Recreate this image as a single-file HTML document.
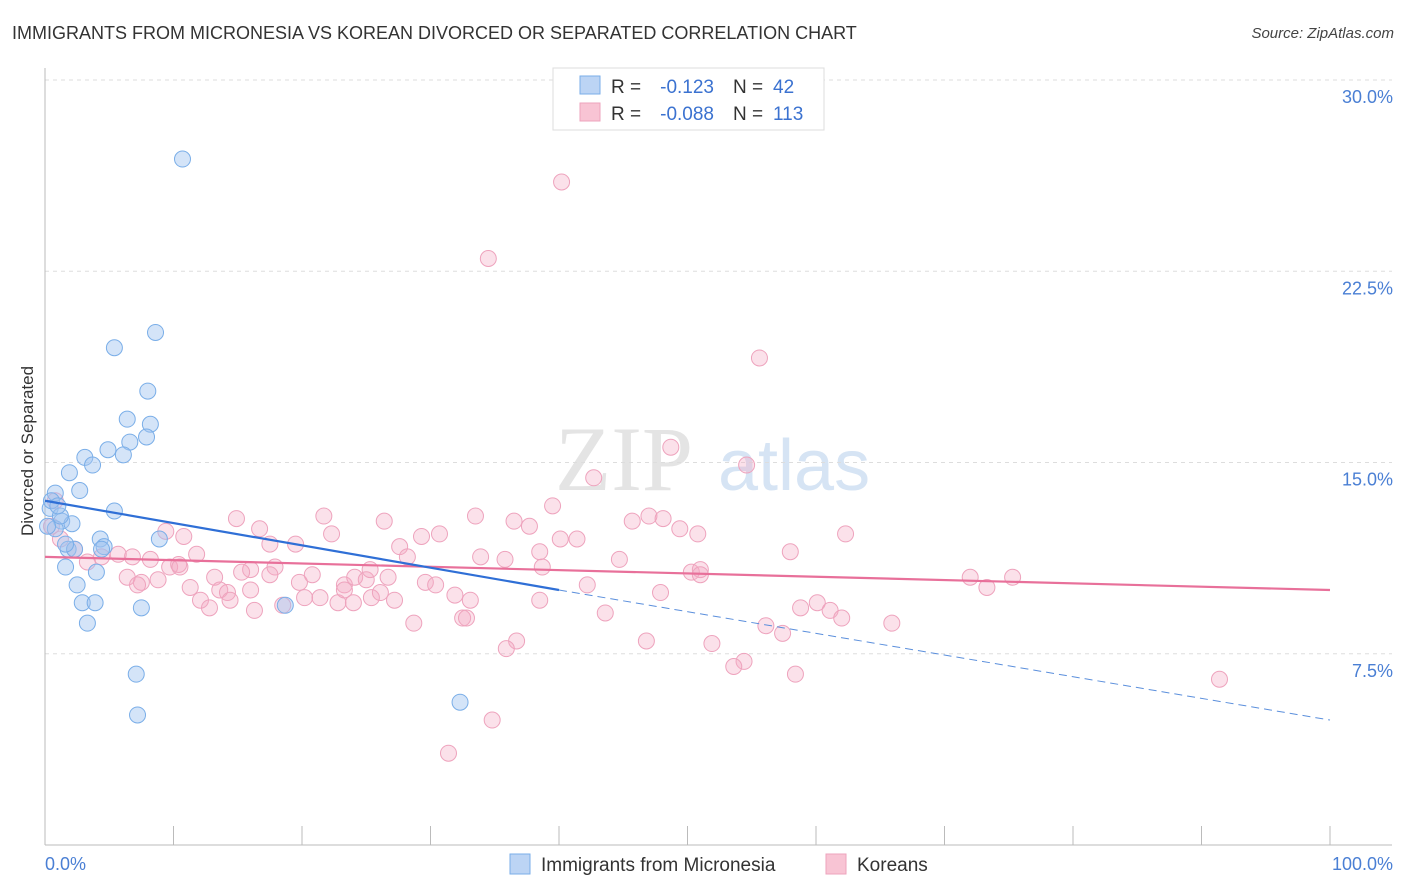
<!DOCTYPE html>
<html><head><meta charset="utf-8"><style>
body{margin:0;background:#fff;font-family:"Liberation Sans",sans-serif;}
#wrap{position:relative;width:1406px;height:892px;overflow:hidden;}
.t{position:absolute;white-space:nowrap;}
</style></head><body>
<div id="wrap">
<div class="t" style="left:12px;top:23px;font-size:18px;color:#333;">IMMIGRANTS FROM MICRONESIA VS KOREAN DIVORCED OR SEPARATED CORRELATION CHART</div>
<div class="t" style="right:12px;top:25px;font-size:15px;color:#444;font-style:italic;">Source: ZipAtlas.com</div>
<div class="t" style="left:-52px;top:446px;font-size:17px;color:#333;transform:rotate(-90deg);width:160px;text-align:center;">Divorced or Separated</div>
<svg id="svg" width="1406" height="892" style="position:absolute;left:0;top:0"></svg>
</div>
<script>
const yTicks=[7.5,15,22.5,30];
const yTickLabels=["7.5%","15.0%","22.5%","30.0%"];
const xTickLabels=["0.0%","100.0%"];
const blueX=[10.7,8.6,5.4,8.0,6.4,8.2,6.6,7.9,4.9,6.1,3.1,3.7,1.9,0.8,2.7,5.4,0.4,1.3,2.1,0.8,4.3,8.9,1.8,4.6,2.3,1.6,4.0,2.5,2.9,3.9,7.5,3.3,18.7,7.1,7.2,32.3,0.5,1.2,0.2,1.6,4.4,1.0];
const blueY=[26.9,20.1,19.5,17.8,16.7,16.5,15.8,16.0,15.5,15.3,15.2,14.9,14.6,13.8,13.9,13.1,13.2,12.7,12.6,12.4,12.0,12.0,11.6,11.7,11.6,10.9,10.7,10.2,9.5,9.5,9.3,8.7,9.4,6.7,5.1,5.6,13.5,12.9,12.5,11.8,11.6,13.3];
const pinkX=[40.2,34.5,55.6,48.7,54.6,42.7,39.5,0.8,14.9,21.7,16.7,10.8,9.4,26.4,33.5,36.5,37.7,30.7,29.3,40.1,41.4,45.7,47.0,48.1,49.4,50.8,62.3,27.6,19.5,22.3,38.5,33.9,28.2,58.0,11.8,8.2,6.8,5.7,4.4,3.3,2.3,1.2,0.5,9.7,10.4,16.0,15.3,17.9,17.5,19.8,20.8,23.3,24.1,25.0,26.7,29.6,30.4,38.7,50.3,51.0,42.2,47.9,13.2,6.4,7.5,8.8,7.2,11.3,13.6,14.2,12.1,12.8,16.3,18.5,20.2,21.4,22.8,24.0,25.4,26.1,27.2,31.9,32.5,32.8,28.7,43.6,58.8,60.1,61.1,62.0,65.9,56.1,57.4,46.8,51.9,36.7,35.9,54.4,53.6,58.4,72.0,73.3,75.3,91.4,31.4,34.8,17.5,14.4,10.5,16.0,23.3,25.3,44.7,51.0,35.8,38.5,33.1];
const pinkY=[26.0,23.0,19.1,15.6,14.9,14.4,13.3,13.5,12.8,12.9,12.4,12.1,12.3,12.7,12.9,12.7,12.5,12.2,12.1,12.0,12.0,12.7,12.9,12.8,12.4,12.2,12.2,11.7,11.8,12.2,11.5,11.3,11.3,11.5,11.4,11.2,11.3,11.4,11.3,11.1,11.6,12.0,12.5,10.9,11.0,10.8,10.7,10.9,10.6,10.3,10.6,10.2,10.5,10.4,10.5,10.3,10.2,10.9,10.7,10.8,10.2,9.9,10.5,10.5,10.3,10.4,10.2,10.1,10.0,9.9,9.6,9.3,9.2,9.4,9.7,9.7,9.5,9.5,9.7,9.9,9.6,9.8,8.9,8.9,8.7,9.1,9.3,9.5,9.2,8.9,8.7,8.6,8.3,8.0,7.9,8.0,7.7,7.2,7.0,6.7,10.5,10.1,10.5,6.5,3.6,4.9,11.8,9.6,10.9,10.0,10.0,10.8,11.2,10.6,11.2,9.6,9.6];
const blueTrend=[13.5,10.0,4.9]; // at x=0, 40, 100
const pinkTrend=[11.3,10.0]; // at x=0, 100
const X=v=>45+v*12.85, Y=v=>845-v*25.5;
const svg=document.getElementById('svg');
function el(tag,attrs,name){const e=document.createElementNS('http://www.w3.org/2000/svg',tag);for(const k in attrs)e.setAttribute(k,attrs[k]);


svg.appendChild(e);return e;}
// watermark
let w=el('text',{x:555,y:490,'font-size':92,fill:'#e4e4e4','font-family':'Liberation Serif, serif'},'watermark-zip');w.textContent='ZIP';
w=el('text',{x:718,y:490,'font-size':72,fill:'#d6e4f4','font-family':'Liberation Sans, sans-serif'},'watermark-atlas');w.textContent='atlas';
yTicks.forEach((t,i)=>{el('line',{x1:45,x2:1392,y1:Y(t),y2:Y(t),stroke:'#ddd','stroke-dasharray':'4,4'},'gridline');
const tx=el('text',{x:1393,y:Y(t)+23,'text-anchor':'end','font-size':18,fill:'#4a7fd4'},'y-tick-label');tx.textContent=yTickLabels[i];});
el('line',{x1:45,x2:45,y1:68,y2:845,stroke:'#bbb'},'y-axis-line');
el('line',{x1:45,x2:1392,y1:845,y2:845,stroke:'#bbb'},'x-axis-line');
for(let i=0;i<=10;i++)el('line',{x1:X(i*10),x2:X(i*10),y1:826,y2:845,stroke:'#bbb'},'x-tick');
let a=el('text',{x:45,y:870,'font-size':18,fill:'#4a7fd4'},'x-tick-label');a.textContent=xTickLabels[0];
a=el('text',{x:1393,y:870,'text-anchor':'end','font-size':18,fill:'#4a7fd4'},'x-tick-label');a.textContent=xTickLabels[1];
pinkX.forEach((x,i)=>el('circle',{cx:X(x),cy:Y(pinkY[i]),r:8,fill:'rgba(244,170,195,0.35)',stroke:'#eea3bd','stroke-width':1},'korean-point'));
blueX.forEach((x,i)=>el('circle',{cx:X(x),cy:Y(blueY[i]),r:8,fill:'rgba(160,195,240,0.45)',stroke:'#7aaee8','stroke-width':1},'micronesia-point'));
el('line',{x1:X(0),y1:Y(pinkTrend[0]),x2:X(100),y2:Y(pinkTrend[1]),stroke:'#e8709a','stroke-width':2.2},'korean-trendline');
el('line',{x1:X(0),y1:Y(blueTrend[0]),x2:X(40),y2:Y(blueTrend[1]),stroke:'#2f6fd6','stroke-width':2.2},'micronesia-trendline');
el('line',{x1:X(40),y1:Y(blueTrend[1]),x2:X(100),y2:Y(blueTrend[2]),stroke:'#5b8fdc','stroke-width':1,'stroke-dasharray':'8,5'},'micronesia-trendline-extension');
// legend box
el('rect',{x:553,y:68,width:271,height:62,fill:'#fff',stroke:'#ddd'},'legend-box');
el('rect',{x:580,y:76,width:20,height:18,fill:'#bcd4f4',stroke:'#7aaee8'},'legend-swatch-blue');
el('rect',{x:580,y:103,width:20,height:18,fill:'#f8c4d4',stroke:'#eea3bd'},'legend-swatch-pink');
[[93,'-0.123','42'],[120,'-0.088','113']].forEach(r=>{
let t=el('text',{x:611,y:r[0],'font-size':19,fill:'#333'},'legend-r-label');t.textContent='R = ';
t=el('text',{x:714,y:r[0],'font-size':19,fill:'#3b72d0','text-anchor':'end'},'legend-r-value');t.textContent=r[1];
t=el('text',{x:733,y:r[0],'font-size':19,fill:'#333'},'legend-n-label');t.textContent='N = ';
t=el('text',{x:773,y:r[0],'font-size':19,fill:'#3b72d0'},'legend-n-value');t.textContent=r[2];});
// bottom legend
el('rect',{x:510,y:854,width:20,height:20,fill:'#bcd4f4',stroke:'#7aaee8'},'bottom-legend-swatch-blue');
let b=el('text',{x:541,y:871,'font-size':19,fill:'#333'},'bottom-legend-micronesia');b.textContent='Immigrants from Micronesia';
el('rect',{x:826,y:854,width:20,height:20,fill:'#f8c4d4',stroke:'#eea3bd'},'bottom-legend-swatch-pink');
b=el('text',{x:857,y:871,'font-size':19,fill:'#333'},'bottom-legend-koreans');b.textContent='Koreans';
</script>
</body></html>
